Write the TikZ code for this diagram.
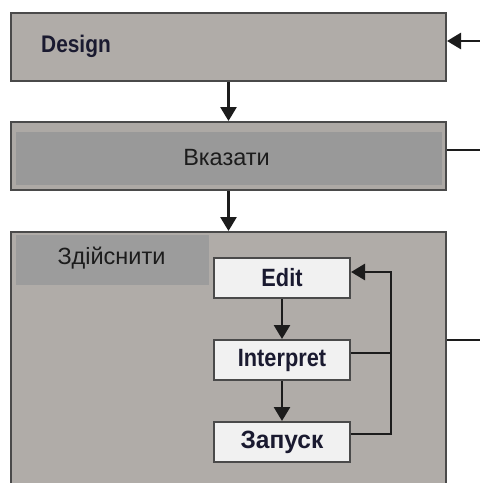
\documentclass[tikz,border=0pt]{standalone}
\usepackage{fontspec}
\setmainfont{Liberation Sans}
\newfontfamily\condbold[FakeStretch=0.87]{Liberation Sans Bold}
\newfontfamily\widebold[FakeStretch=0.98]{Liberation Sans Bold}
\usetikzlibrary{arrows.meta}
\definecolor{boxgray}{HTML}{B0ACA8}
\definecolor{bandgray}{HTML}{ADA9A5}
\definecolor{darkfill}{HTML}{999999}
\definecolor{labelfill}{HTML}{9C9C9C}
\definecolor{whitefill}{HTML}{F1F1F1}
\definecolor{edge}{HTML}{4A4A4A}
\definecolor{ink}{HTML}{1C1C1C}
\definecolor{navy}{HTML}{1A1A30}
\tikzset{
  bigbox/.style={draw=edge, line width=2pt, fill=boxgray, minimum width=435pt, minimum height=68pt, inner sep=0pt},
  smallbox/.style={draw=edge, line width=2pt, fill=whitefill, minimum width=136pt, minimum height=40pt, inner sep=0pt, font=\condbold\fontsize{25}{27}\selectfont, text=navy},
  arr/.style={draw=ink, line width=2.8pt, -{Triangle[width=16pt,length=14pt]}},
  plain/.style={draw=ink, line width=2.2pt},
  regtext/.style={font=\fontsize{23.5}{26}\selectfont, text=ink, inner sep=0pt}
}
\begin{document}
\begin{tikzpicture}[x=1pt,y=-1pt]
\useasboundingbox (0,0) rectangle (480,483);
\clip (0,0) rectangle (480,483);
\fill[white] (0,0) rectangle (480,483);
% Design
\node[bigbox] (design) at (228.5,47) {};
\node[anchor=west, inner sep=0pt, text=navy, font=\condbold\fontsize{24}{26}\selectfont] (designtext) at (41,46) {Design};
% Вказати
\node[bigbox, fill=bandgray] (vkaz) at (228.5,156) {};
\fill[darkfill] (16,132) rectangle (442,185);
\node[regtext] (vkaztext) at (226.5,157.5) {Вказати};
% Здійснити
\node[draw=edge, line width=2pt, fill=boxgray, minimum width=435pt, minimum height=270pt, inner sep=0pt, anchor=north] (zdis) at (228.5,231) {};
\fill[labelfill] (16,235) rectangle (209,285);
\node[regtext] (zdistext) at (111.5,258) {Здійснити};
% inner boxes
\node[smallbox] (edit) at (282,278) {Edit};
\node[smallbox] (interp) at (282,360) {Interpret};
\node[smallbox, font=\widebold\fontsize{25}{27}\selectfont] (zapusk) at (282,442) {Запуск};
% outside connectors
\coordinate (inD) at (480,41);
\coordinate (outV) at (480,150);
\coordinate (outZ) at (480,340);
\draw[arr] (inD) -- (inD -| design.east);
\draw[plain] (outV -| vkaz.east) -- (outV);
\draw[plain] (outZ -| zdis.east) -- (outZ);
\draw[arr] (design.south) -- (vkaz.north);
\draw[arr] (vkaz.south) -- (zdis.north);
% inner flow
\draw[arr] (edit.south) -- (interp.north);
\draw[arr] (interp.south) -- (zapusk.north);
\coordinate (fb) at (391,0);
\coordinate (editin) at ([yshift=6pt]edit.east);
\coordinate (interpout) at ([yshift=7pt]interp.east);
\coordinate (zapout) at ([yshift=8pt]zapusk.east);
\draw[plain] (interpout) -- (interpout -| fb);
\draw[arr] (zapout) -- (zapout -| fb) -- (fb |- editin) -- (editin);
\end{tikzpicture}
\end{document}
